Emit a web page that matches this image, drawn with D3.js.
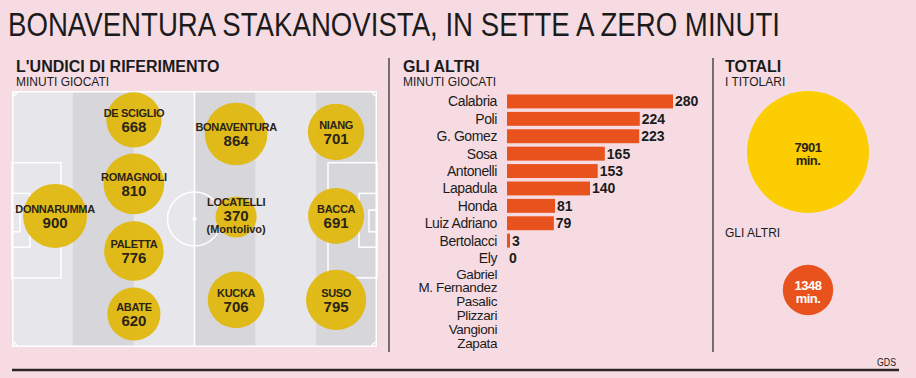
<!DOCTYPE html>
<html>
<head>
<meta charset="utf-8">
<script src="https://cdn.jsdelivr.net/npm/d3@7"></script>
<style>
  html, body { margin: 0; padding: 0; background: #f6dbe2; }
  svg { display: block; font-family: "Liberation Sans", Arial, sans-serif; }
</style>
</head>
<body>
<div id="chart"></div>
<script>
// Undici di riferimento: minuti giocati, posizione in campo (frazioni del campo)
const starterNames = ["DONNARUMMA", "DE SCIGLIO", "ROMAGNOLI", "PALETTA", "ABATE",
  "BONAVENTURA", "LOCATELLI", "KUCKA", "NIANG", "BACCA", "SUSO"];
const starterMinutes = [900, 668, 810, 776, 620, 864, 370, 706, 701, 691, 795];
const starterNotes = ["", "", "", "", "", "", "(Montolivo)", "", "", "", ""];
const starterPitchX = [0.118, 0.334, 0.334, 0.334, 0.334, 0.614, 0.614, 0.614, 0.888, 0.888, 0.888];
const starterPitchY = [0.488, 0.113, 0.363, 0.625, 0.871, 0.168, 0.492, 0.816, 0.160, 0.488, 0.816];

// Gli altri: minuti giocati (null = mai in campo)
const otherNames = ["Calabria", "Poli", "G. Gomez", "Sosa", "Antonelli", "Lapadula", "Honda",
  "Luiz Adriano", "Bertolacci", "Ely", "Gabriel", "M. Fernandez", "Pasalic", "Plizzari",
  "Vangioni", "Zapata"];
const otherMinutes = [280, 224, 223, 165, 153, 140, 81, 79, 3, 0, null, null, null, null, null, null];

// Totali
const totalLabels = ["I TITOLARI", "GLI ALTRI"];
const totalMinutes = [7901, 1348];

const W = 916, H = 378;
const svg = d3.select("#chart").append("svg").attr("width", W).attr("height", H);

svg.append("rect").attr("width", W).attr("height", H).attr("fill", "#f6dbe2");

// Title
svg.append("text")
  .attr("x", 8).attr("y", 36)
  .attr("textLength", 772).attr("lengthAdjust", "spacingAndGlyphs")
  .style("font-size", "34px").style("fill", "#1b1b1b")
  .text("BONAVENTURA STAKANOVISTA, IN SETTE A ZERO MINUTI");

function sectionHead(x, title, sub) {
  svg.append("text").attr("x", x).attr("y", 72)
    .style("font-size", "16px").style("font-weight", "700").style("fill", "#1b1b1b")
    .text(title);
  svg.append("text").attr("x", x).attr("y", 86)
    .style("font-size", "12px").style("fill", "#1b1b1b")
    .text(sub);
}
sectionHead(16, "L'UNDICI DI RIFERIMENTO", "MINUTI GIOCATI");
sectionHead(403, "GLI ALTRI", "MINUTI GIOCATI");
sectionHead(725, "TOTALI", totalLabels[0]);

// Separators
[389, 713].forEach(x => {
  svg.append("line").attr("x1", x).attr("x2", x).attr("y1", 58).attr("y2", 352)
    .style("stroke", "#4a4a4a").style("stroke-width", 1.5);
});
svg.append("line").attr("x1", 12).attr("x2", 899).attr("y1", 370).attr("y2", 370)
  .style("stroke", "#2b2526").style("stroke-width", 2.5);
svg.append("text").attr("x", 896).attr("y", 366).attr("text-anchor", "end")
  .attr("textLength", 19).attr("lengthAdjust", "spacingAndGlyphs")
  .style("font-size", "11px").style("fill", "#1b1b1b").text("GDS");

// ---- Pitch ----
const px = d3.scaleLinear().domain([0, 1]).range([12, 377]);
const py = d3.scaleLinear().domain([0, 1]).range([91, 347]);
const pitch = svg.append("g");

d3.range(6).forEach(i => {
  pitch.append("rect")
    .attr("x", px(i / 6)).attr("y", py(0))
    .attr("width", px((i + 1) / 6) - px(i / 6) + 0.5).attr("height", py(1) - py(0))
    .attr("fill", i % 2 === 0 ? "#e7e6ea" : "#d7d6db");
});

const lineStyle = sel => sel.style("fill", "none").style("stroke", "#ffffff").style("stroke-width", 1.5);
pitch.append("rect").attr("x", px(0) + 0.75).attr("y", py(0) + 0.75)
  .attr("width", px(1) - px(0) - 1.5).attr("height", py(1) - py(0) - 1.5).call(lineStyle);
pitch.append("line").attr("x1", px(0.5)).attr("x2", px(0.5)).attr("y1", py(0)).attr("y2", py(1)).call(lineStyle);
pitch.append("circle").attr("cx", px(0.5)).attr("cy", py(0.5)).attr("r", 27).call(lineStyle);
pitch.append("circle").attr("cx", px(0.5)).attr("cy", py(0.5)).attr("r", 2).style("fill", "#fff");

// penalty boxes, goal areas, goals (left and right)
[[0, 1], [1, -1]].forEach(([edge, dir]) => {
  const x0 = px(edge);
  const box = (w, y1, y2) => pitch.append("rect")
    .attr("x", dir > 0 ? x0 : x0 - w).attr("y", py(y1))
    .attr("width", w).attr("height", py(y2) - py(y1)).call(lineStyle);
  box(49, 0.28, 0.73);
  box(18, 0.40, 0.61);
  box(8, 0.465, 0.55);
  // corner arcs
  [0, 1].forEach(c => {
    const cy = py(c);
    const a = d3.arc().innerRadius(5).outerRadius(5)
      .startAngle(0).endAngle(Math.PI / 2);
    pitch.append("path").attr("d", a)
      .attr("transform", `translate(${x0},${cy}) rotate(${dir > 0 ? (c ? 0 : 90) : (c ? -90 : 180)})`)
      .call(lineStyle);
  });
});

// Player circles
const rPlayer = d3.scaleSqrt().domain([0, 900]).range([0, 32]);
const players = starterNames.map((n, i) => ({
  name: n, minutes: starterMinutes[i], note: starterNotes[i],
  x: px(starterPitchX[i]), y: py(starterPitchY[i])
}));

const pg = svg.append("g").selectAll("g").data(players).join("g")
  .attr("transform", d => `translate(${d.x},${d.y})`);
pg.append("circle").attr("r", d => rPlayer(d.minutes))
  .style("fill", "#e0b913").style("opacity", 0.97);
pg.append("text").attr("text-anchor", "middle")
  .attr("y", d => d.note ? -11 : -3)
  .style("font-size", "11px").style("font-weight", "700").style("fill", "#2a2418")
  .style("letter-spacing", "-0.3px")
  .text(d => d.name);
pg.append("text").attr("text-anchor", "middle")
  .attr("y", d => d.note ? 4 : 12)
  .style("font-size", "15px").style("font-weight", "700").style("fill", "#2a2418")
  .text(d => d.minutes);
pg.filter(d => d.note).append("text").attr("text-anchor", "middle")
  .attr("y", 16)
  .style("font-size", "11px").style("font-weight", "700").style("fill", "#2a2418")
  .text(d => d.note);

// ---- Bars: gli altri ----
const played = otherNames.filter((n, i) => otherMinutes[i] !== null);
const unplayed = otherNames.filter((n, i) => otherMinutes[i] === null);
const yBand = d3.scaleBand().domain(played).range([91, 91 + played.length * 17.75]).padding(0.2);
const yRest = d3.scalePoint().domain(unplayed).range([273.5, 343]);
const xBar = d3.scaleLinear().domain([0, 280]).range([507, 673]);

const rows = otherNames.map((n, i) => ({ name: n, minutes: otherMinutes[i] }));
const yMid = d => d.minutes !== null ? yBand(d.name) + yBand.bandwidth() / 2 : yRest(d.name);

const bg = svg.append("g");
bg.selectAll("text.name").data(rows).join("text")
  .attr("class", "name")
  .attr("x", 497).attr("y", d => yMid(d) + 5)
  .attr("text-anchor", "end")
  .style("font-size", d => d.minutes !== null ? "14px" : "13.5px")
  .style("fill", "#1b1b1b").style("letter-spacing", "-0.4px")
  .text(d => d.name);

const bars = rows.filter(d => d.minutes !== null);
bg.selectAll("rect").data(bars.filter(d => d.minutes > 0)).join("rect")
  .attr("x", xBar(0)).attr("y", d => yBand(d.name))
  .attr("width", d => Math.max(3, xBar(d.minutes) - xBar(0)))
  .attr("height", yBand.bandwidth())
  .style("fill", "#e8531d");
bg.selectAll("text.val").data(bars).join("text")
  .attr("class", "val")
  .attr("x", d => xBar(0) + Math.max(d.minutes > 0 ? 3 : 0, xBar(d.minutes) - xBar(0)) + 2)
  .attr("y", d => yMid(d) + 5)
  .style("font-size", "14px").style("font-weight", "700").style("fill", "#1b1b1b")
  .text(d => d.minutes);

// ---- Totali ----
const rTot = d3.scaleSqrt().domain([0, totalMinutes[0]]).range([0, 61]);
const totY = [152, 290];
const totFill = ["#fbcd02", "#e8531d"];
const totText = ["#2a2418", "#ffffff"];
svg.append("text").attr("x", 725).attr("y", 237)
  .style("font-size", "12px").style("fill", "#1b1b1b").text(totalLabels[1]);
totalMinutes.forEach((v, i) => {
  const g = svg.append("g").attr("transform", `translate(808,${totY[i]})`);
  g.append("circle").attr("r", rTot(v)).style("fill", totFill[i]);
  g.append("text").attr("text-anchor", "middle").attr("y", 0)
    .style("font-size", "13px").style("font-weight", "700").style("fill", totText[i])
    .style("letter-spacing", "-0.5px").text(v);
  g.append("text").attr("text-anchor", "middle").attr("y", 13)
    .style("font-size", "13px").style("font-weight", "700").style("fill", totText[i])
    .style("letter-spacing", "-0.5px").text("min.");
});
</script>
</body>
</html>
